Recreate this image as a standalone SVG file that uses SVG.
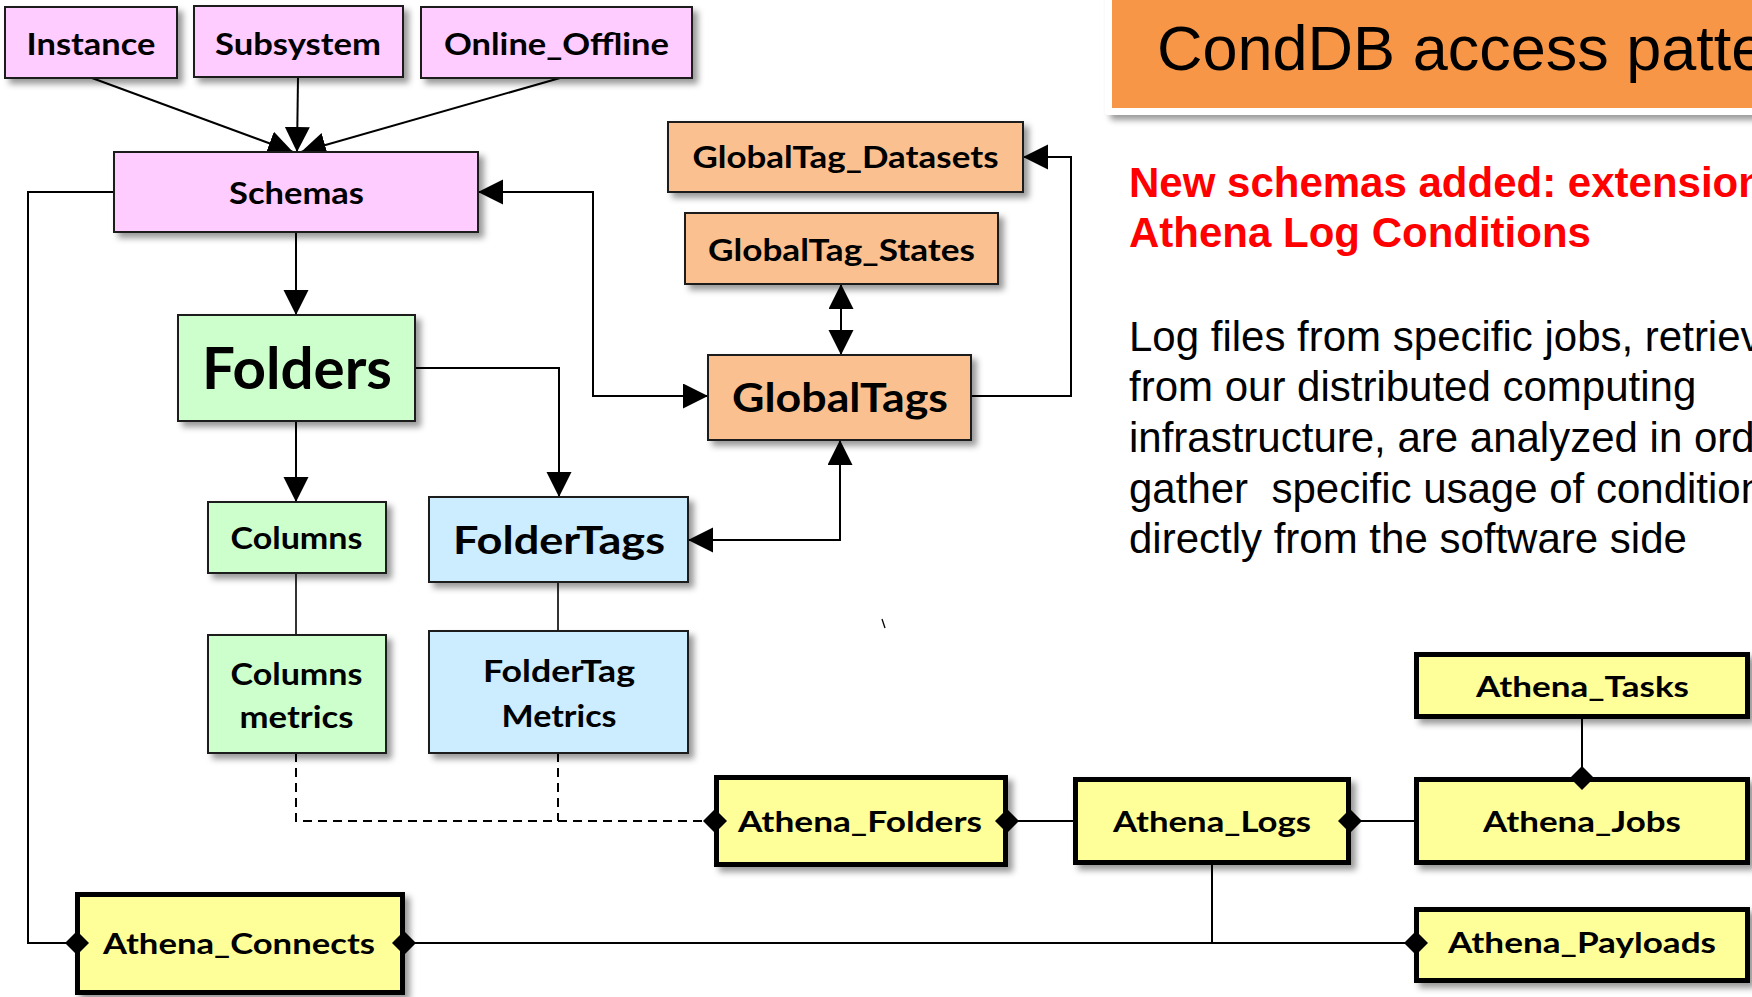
<svg xmlns="http://www.w3.org/2000/svg" xmlns:xlink="http://www.w3.org/1999/xlink" width="1752" height="997" viewBox="0 0 1752 997">
<style>
.box{stroke:#1a1a1a;stroke-width:2;filter:url(#sh)}
.ybox{stroke:#000;stroke-width:5;fill:#FFFF99;filter:url(#sh)}
.pink{fill:#FFCCFF}.green{fill:#CCFFCC}.blue{fill:#CCECFF}.orange{fill:#FAC090}
.lbl{font-family:Lato,"Liberation Sans",sans-serif;font-weight:700;text-anchor:middle;fill:#000}
.s30{font-size:30px}.s29{font-size:29px}.s40{font-size:40px}.s39{font-size:39px}.s57{font-size:57px}
.ln{fill:none;stroke:#000;stroke-width:2}
.thin{fill:none;stroke:#000;stroke-width:1.6}
.dash{fill:none;stroke:#000;stroke-width:2;stroke-dasharray:9 6}
.arr{marker-end:url(#ah)}
.arr2{marker-start:url(#ah);marker-end:url(#ah)}
.sans{font-family:"Liberation Sans",Arial,sans-serif;white-space:pre}
</style>
<defs>
<filter id="sh" x="-10%" y="-10%" width="130%" height="140%">
<feDropShadow dx="5" dy="5" stdDeviation="3" flood-color="#000" flood-opacity="0.4"/>
</filter>
<marker id="ah" markerUnits="userSpaceOnUse" markerWidth="26" markerHeight="26" refX="25" refY="12.5" orient="auto-start-reverse">
<path d="M0,0 L25,12.5 L0,25 z" fill="#000"/>
</marker>
<path id="dia" d="M-12,0 L0,-12 L12,0 L0,12 z" fill="#000"/>
</defs>
<rect width="1752" height="997" fill="#fff"/>

<g id="title">
<rect x="1105" y="-12" width="660" height="127" rx="4" fill="#fff" filter="url(#sh)"/>
<rect x="1112" y="-12" width="650" height="120" fill="#F79646"/>
<text x="1157" y="70" class="sans" font-size="63" fill="#000">CondDB access patte</text>
</g>

<g id="notes">
<text class="sans" font-size="42" font-weight="700" fill="#FF0000"><tspan x="1129" y="197">New schemas added: extension</tspan><tspan x="1129" y="247">Athena Log Conditions</tspan></text>
<text class="sans" font-size="42" fill="#000"><tspan x="1129" y="351">Log files from specific jobs, retriev</tspan><tspan x="1129" y="401">from our distributed computing</tspan><tspan x="1129" y="452">infrastructure, are analyzed in ord</tspan><tspan x="1129" y="503">gather  specific usage of condition</tspan><tspan x="1129" y="553">directly from the software side</tspan></text>
<line x1="882" y1="619" x2="885" y2="628" stroke="#000" stroke-width="1.3"/>
</g>

<g id="connectors">
<line class="ln arr" x1="92" y1="78" x2="293" y2="152"/>
<line class="ln arr" x1="298" y1="77" x2="297" y2="152"/>
<line class="ln arr" x1="560" y1="78" x2="301" y2="152"/>
<line class="ln arr" x1="296" y1="232" x2="296" y2="315"/>
<line class="ln arr" x1="296" y1="421" x2="296" y2="502"/>
<polyline class="ln arr" points="415,368 559,368 559,497"/>
<polyline class="ln arr2" points="478,192 593,192 593,396 708,396"/>
<polyline class="ln arr" points="971,396 1071,396 1071,157 1023,157"/>
<line class="ln arr2" x1="841" y1="284" x2="841" y2="355"/>
<polyline class="ln arr2" points="840,440 840,540 688,540"/>
<line class="thin" x1="296" y1="573" x2="296" y2="635"/>
<line class="thin" x1="558" y1="582" x2="558" y2="631"/>
<polyline class="dash" points="296,753 296,821 703,821"/>
<line class="dash" x1="558" y1="753" x2="558" y2="821"/>
<line class="ln" x1="1008" y1="821" x2="1073" y2="821"/>
<line class="ln" x1="1351" y1="821" x2="1414" y2="821"/>
<line class="ln" x1="1582" y1="719" x2="1582" y2="777"/>
<polyline class="ln" points="114,192 28,192 28,943 75,943"/>
<line class="ln" x1="405" y1="943" x2="1414" y2="943"/>
<line class="ln" x1="1212" y1="865" x2="1212" y2="943"/>
</g>

<g id="Instance"><rect class="box pink" x="5" y="7" width="172" height="71"/><text class="lbl s30" x="91" y="54.5" textLength="129" lengthAdjust="spacingAndGlyphs">Instance</text></g>
<g id="Subsystem"><rect class="box pink" x="194" y="6" width="209" height="71"/><text class="lbl s30" x="298" y="54.5" textLength="166" lengthAdjust="spacingAndGlyphs">Subsystem</text></g>
<g id="Online_Offline"><rect class="box pink" x="421" y="7" width="271" height="71"/><text class="lbl s30" x="556.5" y="54.5" textLength="225" lengthAdjust="spacingAndGlyphs">Online_Offline</text></g>
<g id="Schemas"><rect class="box pink" x="114" y="152" width="364" height="80"/><text class="lbl s30" x="296.5" y="203.5" textLength="135" lengthAdjust="spacingAndGlyphs">Schemas</text></g>
<g id="Folders"><rect class="box green" x="178" y="315" width="237" height="106"/><text class="lbl s57" x="297" y="389" textLength="190" lengthAdjust="spacingAndGlyphs">Folders</text></g>
<g id="Columns"><rect class="box green" x="208" y="502" width="178" height="71"/><text class="lbl s30" x="296.5" y="549" textLength="132" lengthAdjust="spacingAndGlyphs">Columns</text></g>
<g id="Columns_metrics"><rect class="box green" x="208" y="635" width="178" height="118"/><text class="lbl s30" x="296.5" y="685" textLength="132" lengthAdjust="spacingAndGlyphs">Columns</text><text class="lbl s30" x="296.5" y="728" textLength="114" lengthAdjust="spacingAndGlyphs">metrics</text></g>
<g id="FolderTags"><rect class="box blue" x="429" y="497" width="259" height="85"/><text class="lbl s39" x="559" y="554" textLength="212" lengthAdjust="spacingAndGlyphs">FolderTags</text></g>
<g id="FolderTag_Metrics"><rect class="box blue" x="429" y="631" width="259" height="122"/><text class="lbl s30" x="559" y="682" textLength="152" lengthAdjust="spacingAndGlyphs">FolderTag</text><text class="lbl s30" x="559" y="727" textLength="115" lengthAdjust="spacingAndGlyphs">Metrics</text></g>
<g id="GlobalTag_Datasets"><rect class="box orange" x="668" y="122" width="355" height="70"/><text class="lbl s30" x="845.5" y="167.5" textLength="306" lengthAdjust="spacingAndGlyphs">GlobalTag_Datasets</text></g>
<g id="GlobalTag_States"><rect class="box orange" x="685" y="213" width="313" height="71"/><text class="lbl s30" x="841.5" y="261" textLength="267" lengthAdjust="spacingAndGlyphs">GlobalTag_States</text></g>
<g id="GlobalTags"><rect class="box orange" x="708" y="355" width="263" height="85"/><text class="lbl s40" x="840" y="412" textLength="216" lengthAdjust="spacingAndGlyphs">GlobalTags</text></g>

<g id="Athena_Folders"><rect class="ybox" x="716.5" y="777.5" width="289" height="87"/><text class="lbl s29" x="860" y="832" textLength="244" lengthAdjust="spacingAndGlyphs">Athena_Folders</text></g>
<g id="Athena_Logs"><rect class="ybox" x="1075.5" y="779.5" width="273" height="83"/><text class="lbl s29" x="1212" y="832" textLength="198" lengthAdjust="spacingAndGlyphs">Athena_Logs</text></g>
<g id="Athena_Tasks"><rect class="ybox" x="1416.5" y="654.5" width="331" height="62"/><text class="lbl s29" x="1582.5" y="697" textLength="213" lengthAdjust="spacingAndGlyphs">Athena_Tasks</text></g>
<g id="Athena_Jobs"><rect class="ybox" x="1416.5" y="779.5" width="331" height="83"/><text class="lbl s29" x="1582" y="832" textLength="198" lengthAdjust="spacingAndGlyphs">Athena_Jobs</text></g>
<g id="Athena_Payloads"><rect class="ybox" x="1416.5" y="909.5" width="331" height="71"/><text class="lbl s29" x="1582" y="953" textLength="268" lengthAdjust="spacingAndGlyphs">Athena_Payloads</text></g>
<g id="Athena_Connects"><rect class="ybox" x="77.5" y="894.5" width="325" height="98"/><text class="lbl s29" x="239" y="954" textLength="272" lengthAdjust="spacingAndGlyphs">Athena_Connects</text></g>

<g id="diamonds">
<use xlink:href="#dia" x="715" y="821"/>
<use xlink:href="#dia" x="1007" y="821"/>
<use xlink:href="#dia" x="1350" y="821"/>
<use xlink:href="#dia" x="1582" y="778"/>
<use xlink:href="#dia" x="77" y="943"/>
<use xlink:href="#dia" x="404" y="943"/>
<use xlink:href="#dia" x="1416" y="943"/>
</g>
</svg>
